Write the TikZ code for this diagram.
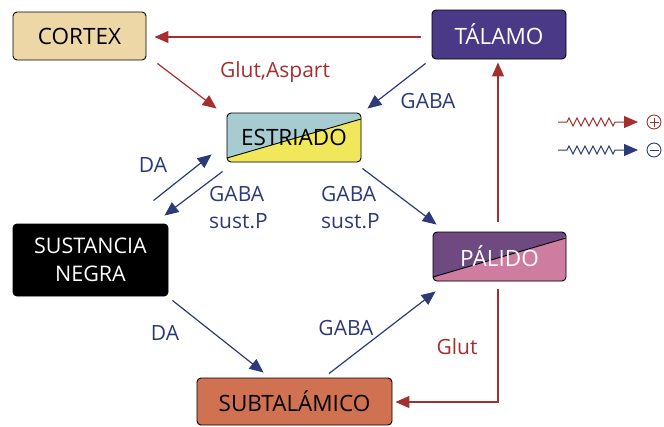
\documentclass[tikz,border=0pt]{standalone}
\usepackage{fontspec}
\setmainfont{Open Sans}
\usetikzlibrary{arrows.meta,decorations.pathmorphing}
\definecolor{redA}{HTML}{A3302F}
\definecolor{blueA}{HTML}{2C3A78}
\definecolor{cortexC}{HTML}{EED7A6}
\definecolor{talamoC}{HTML}{4A3987}
\definecolor{estB}{HTML}{A6CBD1}
\definecolor{estY}{HTML}{F0E85A}
\definecolor{palP}{HTML}{6F4A80}
\definecolor{palK}{HTML}{CE7DA1}
\definecolor{subC}{HTML}{D07152}
\begin{document}
\begin{tikzpicture}[x=1pt,y=-1pt,
  box/.style={draw=black, line width=0.9pt, rounded corners=4pt, inner sep=0pt,
    font=\fontsize{22.5}{28}\selectfont, align=center},
  lbl/.style={font=\fontsize{21}{27}\selectfont, inner sep=0pt},
  redarr/.style={draw=redA, line width=1.2pt, -{Triangle[length=14pt,width=12pt]}},
  bluearr/.style={draw=blueA, line width=1.2pt, -{Triangle[length=14pt,width=12pt]}},
  split/.style n args={2}{path picture={
    \fill[#2] (path picture bounding box.south west) -- ([yshift=4pt]path picture bounding box.south west)
      -- ([yshift=-6pt]path picture bounding box.north east) -- (path picture bounding box.north east)
      -- (path picture bounding box.south east) -- cycle;
    \draw[black, line width=0.9pt] ([yshift=4pt]path picture bounding box.south west)
      -- ([yshift=-6pt]path picture bounding box.north east);}}
]
\useasboundingbox (0,0) rectangle (664,426);

% boxes
\node[box, fill=cortexC, minimum width=133pt, minimum height=48pt] (cortex) at (79.5,36) {CORTEX};
\node[box, fill=talamoC, text=white, minimum width=134pt, minimum height=49pt] (talamo) at (499,34.5) {TÁLAMO};
\node[box, fill=estB, split={estB}{estY}, minimum width=134pt, minimum height=49pt] (estriado) at (294,137.5) {};
\node[font=\fontsize{22.5}{28}\selectfont] at (estriado.center) {ESTRIADO};
\node[box, fill=palP, split={palP}{palK}, minimum width=133pt, minimum height=49pt] (palido) at (499.5,256.5) {};
\node[font=\fontsize{22.5}{28}\selectfont, text=white] at (palido.center) {PÁLIDO};
\node[box, fill=black, text=white, minimum width=155pt, minimum height=72pt, font=\fontsize{21.5}{28}\selectfont] (sn) at (90.5,260) {SUSTANCIA\\NEGRA};
\node[box, fill=subC, minimum width=195pt, minimum height=47pt] (subt) at (294.5,401.5) {SUBTALÁMICO};

% connectors
\draw[redarr] ([shift={(-11,2.5)}]talamo.west) -- ([shift={(8,1)}]cortex.east);
\draw[redarr] ([shift={(11,3)}]cortex.south east) -- ([shift={(-10,-4)}]estriado.north west);
\draw[bluearr] ([shift={(-6,4)}]talamo.south west) -- ([shift={(6,-4)}]estriado.north east);
\draw[bluearr] ([shift={(-15,-23)}]sn.north east) -- ([shift={(-15,-8)}]estriado.south west);
\draw[bluearr] ([shift={(-4,9)}]estriado.south west) -- ([shift={(-4,-8)}]sn.north east);
\draw[bluearr] ([shift={(1,6)}]estriado.south east) -- ([shift={(4,-7)}]palido.north west);
\draw[redarr] ([shift={(-1.5,-10)}]palido.north) -- ([shift={(-1,3)}]talamo.south);
\draw[bluearr] ([shift={(4,4)}]sn.south east) -- ([shift={(67,-5)}]subt.north west);
\draw[bluearr] ([shift={(34.5,-4)}]subt.north) -- ([shift={(3,10)}]palido.south west);
\draw[redarr] ([shift={(-1.5,8)}]palido.south) |- ([shift={(3,0.5)}]subt.east);

% labels
\node[lbl, text=redA] (l1) at (275,72) {Glut,Aspart};
\node[lbl, text=blueA] (l2) at (428,101) {GABA};
\node[lbl, text=blueA] (l3) at (153,165) {DA};
\node[lbl, text=blueA, align=left, anchor=west] (l4) at (209,208) {GABA\\sust.P};
\node[lbl, text=blueA, align=left, anchor=west] (l5) at (321,208) {GABA\\sust.P};
\node[lbl, text=blueA] (l6) at (165,333) {DA};
\node[lbl, text=blueA] (l7) at (346,328) {GABA};
\node[lbl, text=redA] (l8) at (457,347) {Glut};

% legend
\coordinate (r0) at (558,122);
\coordinate (r1) at (638,122);
\coordinate (b0) at (558,150);
\coordinate (b1) at (638,150);
\draw[redA, line width=1pt, -{Triangle[length=14pt,width=12pt]},
  decorate, decoration={zigzag, segment length=8pt, amplitude=4pt, pre length=9pt, post length=22pt}] (r0) -- (r1);
\draw[blueA, line width=1pt, -{Triangle[length=14pt,width=12pt]},
  decorate, decoration={zigzag, segment length=8pt, amplitude=4pt, pre length=9pt, post length=22pt}] (b0) -- (b1);
\node[draw=redA, circle, line width=0.9pt, minimum size=14pt, inner sep=0pt] (plus) at (654,122) {};
\draw[redA, line width=0.9pt] ([xshift=-4.5pt]plus.center) -- ([xshift=4.5pt]plus.center)
  ([yshift=-4.5pt]plus.center) -- ([yshift=4.5pt]plus.center);
\node[draw=blueA, circle, line width=0.9pt, minimum size=14pt, inner sep=0pt] (minus) at (654,150) {};
\draw[blueA, line width=0.9pt] ([xshift=-4.5pt]minus.center) -- ([xshift=4.5pt]minus.center);
\end{tikzpicture}
\end{document}
